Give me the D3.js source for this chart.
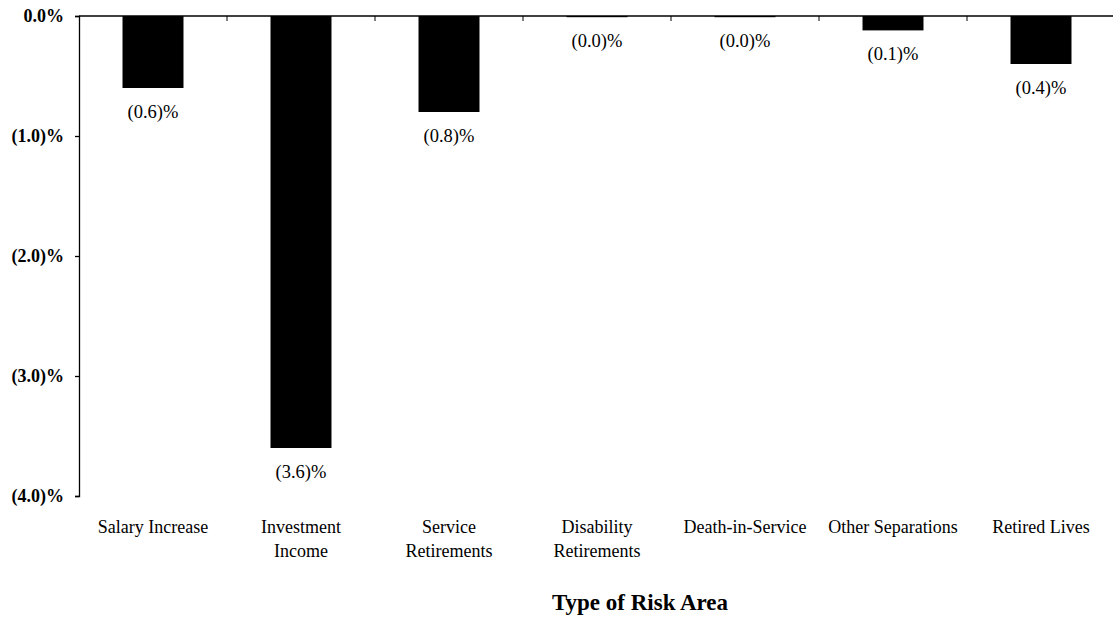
<!DOCTYPE html>
<html>
<head>
<meta charset="utf-8">
<script src="https://cdn.jsdelivr.net/npm/d3@7"></script>
<style>
  body { margin: 0; background: #fff; }
  svg text { font-family: "Liberation Serif", "Times New Roman", serif; fill: #000; }
</style>
</head>
<body>
<svg id="chart" width="1113" height="619"></svg>
<script>
// categories (each may wrap onto two lines)
const categories = [
    ["Salary Increase"],
    ["Investment", "Income"],
    ["Service", "Retirements"],
    ["Disability", "Retirements"],
    ["Death-in-Service"],
    ["Other Separations"],
    ["Retired Lives"]
];
// gain / (loss) as percent of liabilities
const values = [-0.6, -3.6, -0.8, -0.01, -0.01, -0.12, -0.4];
const labels = ["(0.6)%", "(3.6)%", "(0.8)%", "(0.0)%", "(0.0)%", "(0.1)%", "(0.4)%"];
const yTicks = [0, -1, -2, -3, -4];
const yTickLabels = ["0.0%", "(1.0)%", "(2.0)%", "(3.0)%", "(4.0)%"];
const xTitle = "Type of Risk Area";

const svg_size = {width: 1113, height: 619};
const margin = {top: 16, right: -2, bottom: 123, left: 79};
const plot_width = svg_size.width - margin.left - margin.right;
const plot_height = svg_size.height - margin.top - margin.bottom;

const svg = d3.select("#chart");
const plot = svg.append("g")
    .attr("transform", `translate(${margin.left},${margin.top})`);

const idx = d3.range(categories.length);
const x = d3.scaleBand().domain(idx).range([0, plot_width])
    .paddingInner(0.588).paddingOuter(0.294);
const y = d3.scaleLinear().domain([-4, 0]).range([plot_height, 0]);

// y axis
const yAxis = d3.axisLeft(y)
    .tickValues(yTicks)
    .tickSize(4)
    .tickPadding(11)
    .tickFormat((d, i) => yTickLabels[i]);
const gy = plot.append("g").call(yAxis);
gy.select(".domain").attr("stroke", "#000").attr("stroke-width", 1.3);
gy.selectAll(".tick line").attr("stroke", "#000").attr("stroke-width", 1.3);
gy.selectAll(".tick text")
    .attr("font-size", 18)
    .attr("font-weight", "bold")
    .attr("fill", "#000");

// bars
plot.selectAll("rect.bar")
    .data(values)
    .join("rect")
    .attr("class", "bar")
    .attr("x", (d, i) => x(i))
    .attr("y", y(0))
    .attr("width", x.bandwidth())
    .attr("height", d => y(d) - y(0))
    .attr("fill", "#000");

// zero line along the top with ticks at band boundaries
const step = x.step();
plot.append("line")
    .attr("x1", 0).attr("x2", plot_width)
    .attr("y1", y(0)).attr("y2", y(0))
    .attr("stroke", "#000").attr("stroke-width", 1.5);
plot.selectAll("line.xtick")
    .data(d3.range(1, categories.length))
    .join("line")
    .attr("class", "xtick")
    .attr("x1", d => d * step).attr("x2", d => d * step)
    .attr("y1", y(0)).attr("y2", y(0) + 5)
    .attr("stroke", "#000").attr("stroke-width", 1);

// value labels below bars
plot.selectAll("text.value")
    .data(values)
    .join("text")
    .attr("class", "value")
    .attr("x", (d, i) => x(i) + x.bandwidth() / 2)
    .attr("y", d => y(d) + 30)
    .attr("text-anchor", "middle")
    .attr("font-size", 18.5)
    .text((d, i) => labels[i]);

// category labels
const cat = plot.selectAll("text.cat")
    .data(categories)
    .join("text")
    .attr("class", "cat")
    .attr("text-anchor", "middle")
    .attr("font-size", 18)
    .attr("transform", (d, i) => `translate(${x(i) + x.bandwidth() / 2},${plot_height + 37})`);
cat.selectAll("tspan")
    .data(d => d)
    .join("tspan")
    .attr("x", 0)
    .attr("dy", (d, i) => i === 0 ? 0 : 24)
    .text(d => d);

// axis title
svg.append("text")
    .attr("x", 640)
    .attr("y", 610)
    .attr("text-anchor", "middle")
    .attr("font-size", 23)
    .attr("font-weight", "bold")
    .text(xTitle);
</script>
</body>
</html>
